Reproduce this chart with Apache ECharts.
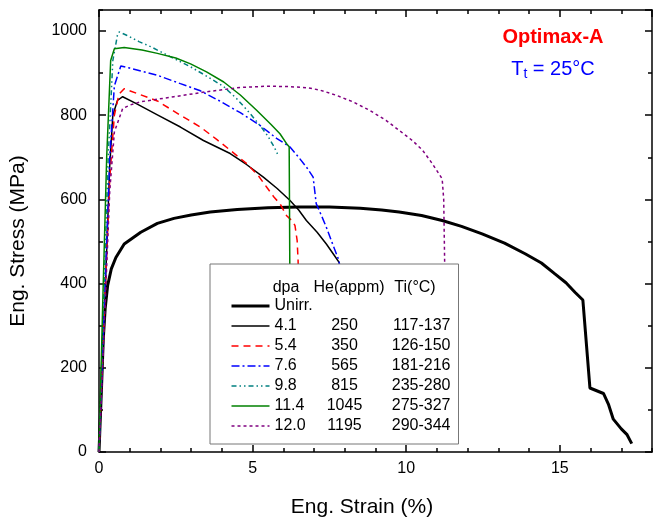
<!DOCTYPE html>
<html>
<head>
<meta charset="utf-8">
<script src="https://cdn.jsdelivr.net/npm/echarts@6/dist/echarts.min.js"></script>
<style>
html,body{margin:0;padding:0;background:#fff;}
#c{width:654px;height:521px;}
</style>
</head>
<body>
<div id="c"></div>
<script>
// Legend table columns
const dpaLabels = ['Unirr.', '4.1', '5.4', '7.6', '9.8', '11.4', '12.0'];
const heLabels  = ['', '250', '350', '565', '815', '1045', '1195'];
const tiLabels  = ['', '117-137', '126-150', '181-216', '235-280', '275-327', '290-344'];
const headerLabels = ['dpa', 'He(appm)', 'Ti(°C)'];
const xTickLabels = ['0', '5', '10', '15'];
const yTickLabels = ['0', '200', '400', '600', '800', '1000'];

// Curves: [strain %, stress MPa]
const unirr = [[0,0],[0.08,150],[0.14,270],[0.2,340],[0.28,395],[0.4,435],[0.55,462],[0.82,494],[1.36,522],[1.9,543],[2.44,555],[3.0,563],[3.62,570],[4.5,576],[5.5,580],[6.5,582],[7.5,582],[8.5,579],[9.2,575],[9.77,570],[10.5,562],[11.17,550],[11.8,536],[12.47,518],[13.2,496],[13.87,471],[14.4,449],[14.84,423],[15.2,402],[15.5,379],[15.75,361],[15.98,152],[16.42,139],[16.58,114],[16.74,78],[17.0,55],[17.18,42],[17.34,20]];
const d41 = [[0,0],[0.2,380],[0.35,680],[0.45,800],[0.6,835],[0.77,844],[1.2,828],[1.9,801],[2.65,772],[3.4,740],[4.27,709],[4.8,683],[5.35,653],[5.8,626],[6.21,598],[6.5,575],[6.75,550],[7.1,522],[7.4,494],[7.65,468],[7.81,451],[8.0,400]];
const d54 = [[0,0],[0.2,380],[0.35,650],[0.5,800],[0.65,850],[0.82,863],[1.3,850],[1.9,834],[2.65,800],[3.3,772],[3.84,742],[4.27,717],[4.81,685],[5.2,655],[5.46,629],[5.7,605],[5.89,590],[6.1,562],[6.3,548],[6.38,538],[6.45,502],[6.48,455],[6.5,400]];
const d76 = [[0,0],[0.2,400],[0.35,700],[0.5,870],[0.71,917],[1.0,912],[1.9,895],[2.65,875],[3.3,858],[3.9,835],[4.6,806],[5.2,778],[5.78,745],[6.21,725],[6.5,700],[6.75,677],[6.97,653],[7.07,590],[7.25,560],[7.4,534],[7.6,495],[7.81,455],[7.9,400]];
const d98 = [[0,0],[0.15,350],[0.3,700],[0.45,930],[0.6,990],[0.66,998],[0.9,990],[1.3,975],[1.68,963],[2.3,940],[2.98,915],[3.5,893],[4.06,868],[4.5,838],[4.92,804],[5.3,770],[5.5,750],[5.7,725],[5.83,705]];
const d114 = [[0,0],[0.12,350],[0.25,700],[0.38,930],[0.5,958],[0.82,961],[1.4,955],[1.9,947],[2.5,936],[2.98,922],[3.5,903],[4.06,879],[4.6,848],[5.13,812],[5.6,778],[5.89,756],[6.1,733],[6.19,725],[6.2,600],[6.21,447],[6.22,400]];
const d120 = [[0,0],[0.2,350],[0.35,620],[0.5,760],[0.77,816],[1.0,824],[1.36,832],[2.44,844],[3.52,856],[4.6,866],[5.5,869],[6.21,868],[6.8,865],[7.18,860],[7.7,848],[8.26,832],[8.8,812],[9.34,788],[9.77,764],[10.2,740],[10.53,717],[10.85,685],[11.17,649],[11.22,600],[11.25,455],[11.26,400]];

const FONT = "'Liberation Sans', Arial, sans-serif";
const curves = [unirr, d41, d54, d76, d98, d114, d120];
const colors = ['#000000','#000000','#ff0000','#0000ff','#008080','#008000','#800080'];
const widths = [3, 1.5, 1.5, 1.5, 1.5, 1.5, 1.5];
const dashes = ['solid','solid',[7,5],[8,3,2,3],[5,3,1.5,3,1.5,3],'solid',[3,3]];

const series = curves.map((d, i) => ({
  name: dpaLabels[i],
  type: 'line',
  data: d,
  symbol: 'none',
  xAxisIndex: 0, yAxisIndex: 0,
  lineStyle: {color: colors[i], width: widths[i], type: dashes[i]},
  itemStyle: {color: colors[i]},
  z: 2
}));

const XMAX = 18, YMAX = 1050;
function xAx(pos, interval, len, labels, line) {
  return {
    type: 'value', position: pos, min: 0, max: XMAX, interval: interval,
    axisLine: {show: line, onZero: false, lineStyle: {color: '#000', width: 1.5}},
    axisTick: {show: true, inside: true, length: len, lineStyle: {color: '#000', width: 1.5}},
    axisLabel: {show: labels, fontSize: 16, fontFamily: FONT, color: '#000', margin: 9, showMaxLabel: false,
      formatter: v => xTickLabels[xTickLabels.indexOf(String(v))] || ''},
    splitLine: {show: false}
  };
}
function yAx(pos, interval, len, labels, line) {
  return {
    type: 'value', position: pos, min: 0, max: YMAX, interval: interval,
    axisLine: {show: line, onZero: false, lineStyle: {color: '#000', width: 1.5}},
    axisTick: {show: true, inside: true, length: len, lineStyle: {color: '#000', width: 1.5}},
    axisLabel: {show: labels, fontSize: 16, fontFamily: FONT, color: '#000', margin: 12, showMaxLabel: false,
      formatter: v => yTickLabels[yTickLabels.indexOf(String(v))] || ''},
    splitLine: {show: false}
  };
}

const chart = echarts.init(document.getElementById('c'), null, {renderer: 'canvas'});
chart.setOption({
  animation: false,
  backgroundColor: '#fff',
  grid: {left: 99, right: 2, top: 10, bottom: 69, containLabel: false},
  xAxis: [
    xAx('bottom', 5, 7, true, true),
    xAx('bottom', 1, 4, false, false),
    xAx('top', 5, 7, false, true),
    xAx('top', 1, 4, false, false)
  ],
  yAxis: [
    yAx('left', 200, 7, true, true),
    yAx('left', 100, 4, false, false),
    yAx('right', 200, 7, false, true),
    yAx('right', 100, 4, false, false)
  ],
  legend: {
    data: dpaLabels.map((n, i) => ({name: n, lineStyle: {width: widths[i], color: colors[i], type: dashes[i]}})),
    left: 210, top: 264,
    orient: 'vertical',
    itemWidth: 38, itemHeight: 14, itemGap: 4,
    padding: [34, 8, 10, 20],
    backgroundColor: '#fff',
    borderColor: '#777', borderWidth: 1,
    selectedMode: false,
    itemStyle: {opacity: 0, borderWidth: 0},
    textStyle: {
      fontSize: 16, fontFamily: FONT, color: '#000',
      rich: {
        a: {width: 48, align: 'left', fontSize: 16, fontFamily: FONT, lineHeight: 16},
        b: {width: 44, align: 'center', fontSize: 16, fontFamily: FONT, lineHeight: 16},
        c: {width: 84, align: 'right', fontSize: 16, fontFamily: FONT, lineHeight: 16}
      }
    },
    formatter: name => {
      const i = dpaLabels.indexOf(name);
      return '{a|' + dpaLabels[i] + '}{b|' + (heLabels[i] || ' ') + '}{c|' + (tiLabels[i] || ' ') + '}';
    },
    z: 5
  },
  graphic: [
    {type: 'text', x: 286, y: 288, z: 10, style: {text: headerLabels[0], font: '16px ' + FONT, fill: '#000', align: 'center', verticalAlign: 'middle'}},
    {type: 'text', x: 349, y: 288, z: 10, style: {text: headerLabels[1], font: '16px ' + FONT, fill: '#000', align: 'center', verticalAlign: 'middle'}},
    {type: 'text', x: 415, y: 288, z: 10, style: {text: headerLabels[2], font: '16px ' + FONT, fill: '#000', align: 'center', verticalAlign: 'middle'}},
    {type: 'text', x: 553, y: 37, z: 10, style: {text: 'Optimax-A', font: 'bold 20px ' + FONT, fill: '#ff0000', align: 'center', verticalAlign: 'middle'}},
    {type: 'text', x: 553, y: 69, z: 10, style: {
      text: '{a|T}{b|t}{a| = 25°C}', align: 'center', verticalAlign: 'middle',
      rich: {
        a: {fontSize: 20, fontFamily: FONT, fill: '#0000ff', color: '#0000ff', lineHeight: 22},
        b: {fontSize: 14, fontFamily: FONT, fill: '#0000ff', color: '#0000ff', lineHeight: 22, padding: [10, 0, 0, 0]}
      }}},
    {type: 'text', x: 362, y: 507, z: 10, style: {text: 'Eng. Strain (%)', font: '21px ' + FONT, fill: '#000', align: 'center', verticalAlign: 'middle'}},
    {type: 'text', x: 18, y: 241, rotation: Math.PI / 2, z: 10, style: {text: 'Eng. Stress (MPa)', font: '21px ' + FONT, fill: '#000', align: 'center', verticalAlign: 'middle'}}
  ],
  series: series
});
</script>
</body>
</html>
